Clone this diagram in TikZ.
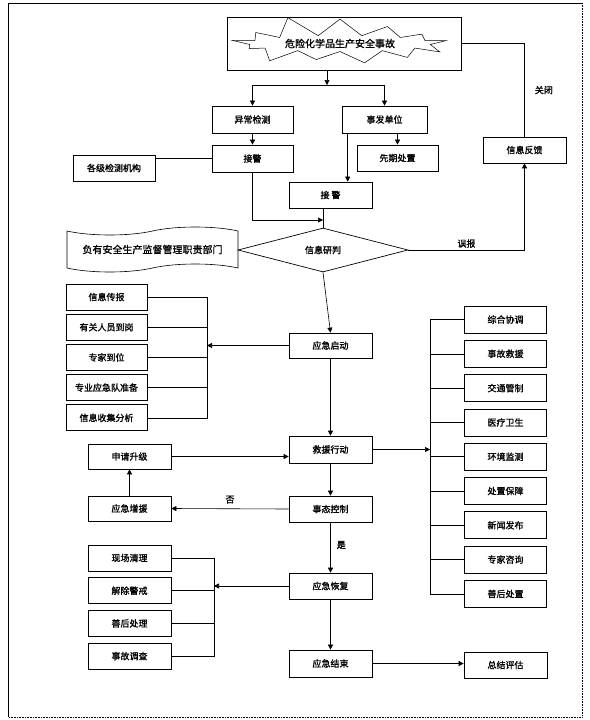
\documentclass[tikz,border=0pt]{standalone}
\usepackage{fontspec}
\usepackage{tikz}
\usetikzlibrary{shapes.geometric, shapes.symbols, arrows.meta, positioning}
\newfontfamily\cjk{Noto Sans CJK SC}[FakeBold=1.2]

\begin{document}
\begin{tikzpicture}[x=1pt, y=-1pt,
  box/.style={rectangle, draw, line width=0.7pt, minimum width=83pt, minimum height=26pt, inner sep=1pt, font=\cjk\fontsize{9}{11}\selectfont},
  line/.style={line width=0.6pt},
  arr/.style={-{Triangle[length=5pt, width=5pt]}, line width=0.6pt},
  lbl/.style={font=\cjk\fontsize{9}{11}\selectfont, inner sep=2pt},
]
\useasboundingbox (0,0) rectangle (589,720);
% frame
\draw[line width=0.6pt] (8,717) -- (8,3) -- (582,3);
\draw[line width=0.6pt, densely dotted] (582,3) -- (582,717) -- (8,717);

% accident
\node[draw, line width=0.7pt, minimum width=234pt, minimum height=53pt] (top) at (344,43.5) {};
\node[starburst, draw, line width=0.5pt, minimum width=226pt, minimum height=50pt, starburst points=13, starburst point height=22pt, random starburst=11, inner sep=1pt, font=\cjk\fontsize{10}{12}\selectfont] (burst) at (340,43.5) {危险化学品生产安全事故};
\coordinate (split) at (327,85);

\node[box, minimum width=81pt, minimum height=27pt] (yc) at (252.5,119.5) {异常检测};
\node[box, minimum width=85pt, minimum height=27pt] (sf) at (384.5,119.5) {事发单位};
\node[box, minimum width=81pt, minimum height=27pt] (jj1) at (252.5,158.5) {接警};
\node[box, minimum width=81pt] (xq) at (397.5,158) {先期处置};
\node[box, minimum width=82pt] (gj) at (114,168) {各级检测机构};
\node[box] (jj2) at (330.5,195) {接\ 警};
\node[box] (fk) at (524.5,150) {信息反馈};

% judgement
\node[diamond, draw, line width=0.7pt, aspect=3.86, minimum width=170pt, minimum height=44pt, inner sep=0pt, font=\cjk\fontsize{9}{11}\selectfont] (yp) at (323,250) {信息研判};
\node[tape, draw, line width=0.6pt, minimum width=171pt, minimum height=45pt, tape bend height=8pt, font=\cjk\fontsize{10}{12}\selectfont] (bm) at (152.5,249.5) {负有安全生产监督管理职责部门};
\coordinate (hj) at (323,220);

% start
\node[box, minimum height=25pt] (qd) at (330.5,345.5) {应急启动};
\node[box, minimum width=81pt] (L1) at (106.5,297) {信息传报};
\node[box, minimum width=81pt, below=3.5pt of L1] (L2) {有关人员到岗};
\node[box, minimum width=81pt, below=3.5pt of L2] (L3) {专家到位};
\node[box, minimum width=81pt, below=3.5pt of L3] (L4) {专业应急队准备};
\node[box, minimum width=81pt, below=3.5pt of L4] (L5) {信息收集分析};
\coordinate (lb) at (207,0);

% rescue
\node[box, minimum height=27pt] (jy) at (330.5,449.5) {救援行动};
\node[box, minimum width=82pt, minimum height=27pt] (R1) at (505.5,319.5) {综合协调};
\node[box, minimum width=82pt, minimum height=27pt, below=6.6pt of R1] (R2) {事故救援};
\node[box, minimum width=82pt, minimum height=27pt, below=6.6pt of R2] (R3) {交通管制};
\node[box, minimum width=82pt, minimum height=27pt, below=6.6pt of R3] (R4) {医疗卫生};
\node[box, minimum width=82pt, minimum height=27pt, below=6.6pt of R4] (R5) {环境监测};
\node[box, minimum width=82pt, minimum height=27pt, below=6.6pt of R5] (R6) {处置保障};
\node[box, minimum width=82pt, minimum height=27pt, below=6.6pt of R6] (R7) {新闻发布};
\node[box, minimum width=82pt, minimum height=27pt, below=6.6pt of R7] (R8) {专家咨询};
\node[box, minimum width=82pt, minimum height=27pt, below=6.6pt of R8] (R9) {善后处置};
\coordinate (rb) at (430,0);

% control
\node[box, minimum height=25pt] (sj) at (129.5,456.5) {申请升级};
\node[box, minimum height=25pt] (zy) at (129.5,508.5) {应急增援};
\node[box] (tk) at (330.5,509) {事态控制};

% recovery
\node[box] (hf) at (330.5,586) {应急恢复};
\node[box] (M1) at (129.5,558) {现场清理};
\node[box, below=6pt of M1] (M2) {解除警戒};
\node[box, below=6pt of M2] (M3) {善后处理};
\node[box, below=6pt of M3] (M4) {事故调查};
\coordinate (mb) at (214,0);
\node[box, minimum height=27pt] (js) at (330.5,663.5) {应急结束};
\node[box] (zj) at (505.5,665) {总结评估};

% connectors
\draw[arr] (top.south -| split) -- (split);
\draw[arr] (split) -| (yc.north);
\draw[arr] (split) -| (sf.north);
\draw[arr] (yc) -- (jj1);
\draw[arr] ([xshift=6pt]sf.south west) -- ([xshift=6pt]sf.south west |- jj2.north);
\draw[arr] (sf.south -| xq.north) -- (xq.north);
\draw[line] (jj1.west) -- (jj1.west -| gj.east);
\draw[line] (jj2.south -| yp.north) -- (yp.north);
\draw[arr] (jj1.south) |- (hj);
\draw[line] (top.east) -| (fk.north) node[lbl, pos=0.75, right=8pt] {关闭};
\draw[arr] (yp.east) -| (fk.south) node[lbl, pos=0.25, above] {误报};
\draw[arr] (yp.south) -- (qd.north);

\draw[arr] (qd.west) -- (qd.west -| lb);
\draw[line] (L1.east) -- (L1.east -| lb) -- (L5.east -| lb) -- (L5.east);
\draw[line] (L2.east) -- (L2.east -| lb);
\draw[line] (L3.east) -- (L3.east -| lb);
\draw[line] (L4.east) -- (L4.east -| lb);
\draw[arr, line width=1pt] (qd.south) -- (jy.north);

\draw[arr] (jy.east) -- (jy.east -| rb);
\draw[line] (R1.west) -- (R1.west -| rb) -- (R9.west -| rb) -- (R9.west);
\draw[line] (R2.west) -- (R2.west -| rb);
\draw[line] (R3.west) -- (R3.west -| rb);
\draw[line] (R4.west) -- (R4.west -| rb);
\draw[line] (R5.west) -- (R5.west -| rb);
\draw[line] (R6.west) -- (R6.west -| rb);
\draw[line] (R7.west) -- (R7.west -| rb);
\draw[line] (R8.west) -- (R8.west -| rb);

\draw[arr] (sj.east) -- (sj.east -| jy.west);
\draw[arr] (zy) -- (sj);
\draw[arr] (jy) -- (tk);
\draw[arr] (tk.west) -- (zy.east) node[lbl, pos=0.5, above=3pt] {否};
\draw[arr] (tk) -- (hf) node[lbl, pos=0.45, right=4pt] {是};

\draw[arr] (hf.west) -- (hf.west -| mb);
\draw[line] (M1.east) -- (M1.east -| mb) -- (M4.east -| mb) -- (M4.east);
\draw[line] (M2.east) -- (M2.east -| mb);
\draw[line] (M3.east) -- (M3.east -| mb);
\draw[arr] (hf) -- (js);
\draw[arr] (js.east) -- (js.east -| zj.west);
\end{tikzpicture}
\end{document}
